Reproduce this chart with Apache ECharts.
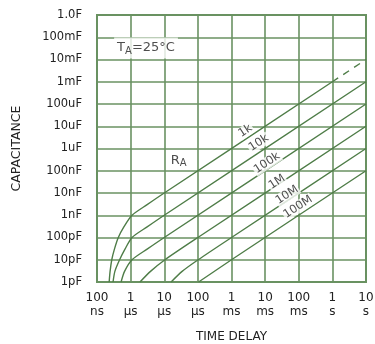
<!DOCTYPE html>
<html>
<head>
<meta charset="utf-8">
<script src="https://cdn.jsdelivr.net/npm/echarts@6/dist/echarts.min.js"></script>
<style>
  html, body { margin: 0; padding: 0; background: #fff; }
  #chart { width: 375px; height: 344px; }
</style>
</head>
<body>
<div id="chart"></div>
<script>
// Tick labels, one per decade
const timeTicks = ['100\nns', '1\nµs', '10\nµs', '100\nµs', '1\nms', '10\nms', '100\nms', '1\ns', '10\ns'];
const capTicks = ['1pF', '10pF', '100pF', '1nF', '10nF', '100nF', '1uF', '10uF', '100uF', '1mF', '10mF', '100mF', '1.0F'];

// Curves of time delay [s] vs. capacitance [F] for each timing resistor R_A
const rA1k    = [[2.3e-7, 1e-12], [2.45e-7, 3e-12], [2.75e-7, 1e-11], [3.3e-7, 3e-11], [4.3e-7, 1e-10],
                 [6.3e-7, 3e-10], [1.1e-6, 1e-9], [3.1e-6, 3e-9], [1e-5, 1e-8], [1, 1e-3]];
const rA1kExt = [[1, 1e-3], [10, 1e-2]];
const rA10k   = [[3.0e-7, 1e-12], [3.4e-7, 3e-12], [4.7e-7, 1e-11], [6.8e-7, 3e-11], [1.1e-6, 1e-10],
                 [3.1e-6, 3e-10], [1e-5, 1e-9], [10, 1e-3]];
const rA100k  = [[5.2e-7, 1e-12], [6.6e-7, 3e-12], [1.1e-6, 1e-11], [3.1e-6, 3e-11], [1e-5, 1e-10], [10, 1e-4]];
const rA1M    = [[1.9e-6, 1e-12], [3.9e-6, 3e-12], [1.05e-5, 1e-11], [1e-4, 1e-10], [10, 1e-5]];
const rA10M   = [[1.6e-5, 1e-12], [3.4e-5, 3e-12], [1.02e-4, 1e-11], [1e-3, 1e-10], [10, 1e-6]];
const rA100M  = [[1.05e-4, 1e-12], [1e-3, 1e-11], [10, 1e-7]];

// Resistor labels placed along their curves
const curveLabels = [
  { name: '1k',   value: [2.6e-3, 6.1e-6] },
  { name: '10k',  value: [6.5e-3, 1.77e-6] },
  { name: '100k', value: [1.14e-2, 2.23e-7] },
  { name: '1M',   value: [2.26e-2, 3.12e-8] },
  { name: '10M',  value: [4.48e-2, 8.13e-9] },
  { name: '100M', value: [9.5e-2, 2.35e-9] }
];
const noteRA = [[2.7e-5, 3.0e-7]];
const noteTA = [[2.87e-6, 3.29e-2]];

const GRID = '#6a9262';
const CURVE = '#4f7d48';
const INK = '#222';
const FONT = 'DejaVu Sans';

function curve(data, dashed) {
  return {
    type: 'line', data: data, showSymbol: false, symbol: 'none',
    smooth: 0.25, silent: true, z: 3,
    lineStyle: { color: CURVE, width: 1.4, type: dashed ? [7, 6] : 'solid' }
  };
}

const chart = echarts.init(document.getElementById('chart'), null, { renderer: 'canvas' });
chart.setOption({
  animation: false,
  backgroundColor: '#fff',
  grid: {
    left: 97, right: 9, top: 15, bottom: 62, outerBoundsMode: 'none', containLabel: false,
    show: true, borderColor: GRID, borderWidth: 2, backgroundColor: 'transparent'
  },
  xAxis: {
    type: 'log', logBase: 10, min: 1e-7, max: 10, interval: 1,
    name: 'TIME DELAY', nameLocation: 'middle', nameGap: 49,
    nameTextStyle: { color: INK, fontFamily: FONT, fontSize: 12 },
    axisLine: { show: false }, axisTick: { show: false },
    splitLine: { show: true, lineStyle: { color: GRID, width: 1.6 } },
    axisLabel: {
      color: INK, fontFamily: FONT, fontSize: 12, lineHeight: 14, margin: 9,
      formatter: v => timeTicks[Math.round(Math.log10(v)) + 7] || ''
    }
  },
  yAxis: {
    type: 'log', logBase: 10, min: 1e-12, max: 1, interval: 1,
    name: 'CAPACITANCE', nameLocation: 'middle', nameGap: 74, nameRotate: 90,
    nameTextStyle: { color: INK, fontFamily: FONT, fontSize: 12.5 },
    axisLine: { show: false }, axisTick: { show: false },
    splitLine: { show: true, lineStyle: { color: GRID, width: 1.6 } },
    axisLabel: {
      color: INK, fontFamily: FONT, fontSize: 11.5, margin: 15,
      formatter: v => capTicks[Math.round(Math.log10(v)) + 12] || ''
    }
  },
  series: [
    curve(rA1k), curve(rA1kExt, true), curve(rA10k), curve(rA100k),
    curve(rA1M), curve(rA10M), curve(rA100M),
    {
      type: 'scatter', data: curveLabels, symbolSize: 0, silent: true, z: 5,
      label: {
        show: true, position: 'inside', formatter: '{b}', rotate: 33.5,
        color: INK, fontFamily: FONT, fontSize: 11.5,
        backgroundColor: '#fff', padding: [0, 1]
      }
    },
    {
      type: 'scatter', data: noteRA, symbolSize: 0, silent: true, z: 5,
      label: {
        show: true, position: 'inside', formatter: '{r|R}{s|A}',
        rich: {
          r: { color: INK, fontFamily: FONT, fontSize: 13 },
          s: { color: INK, fontFamily: FONT, fontSize: 10, padding: [7, 0, 0, 0] }
        }
      }
    },
    {
      type: 'scatter', data: noteTA, symbolSize: 0, silent: true, z: 5,
      label: {
        show: true, position: 'inside', formatter: '{r|T}{s|A}{r|=25°C}',
        backgroundColor: '#fff', padding: [2, 3],
        rich: {
          r: { color: INK, fontFamily: FONT, fontSize: 13 },
          s: { color: INK, fontFamily: FONT, fontSize: 10, padding: [7, 0, 0, 0] }
        }
      }
    }
  ]
});
</script>
</body>
</html>
